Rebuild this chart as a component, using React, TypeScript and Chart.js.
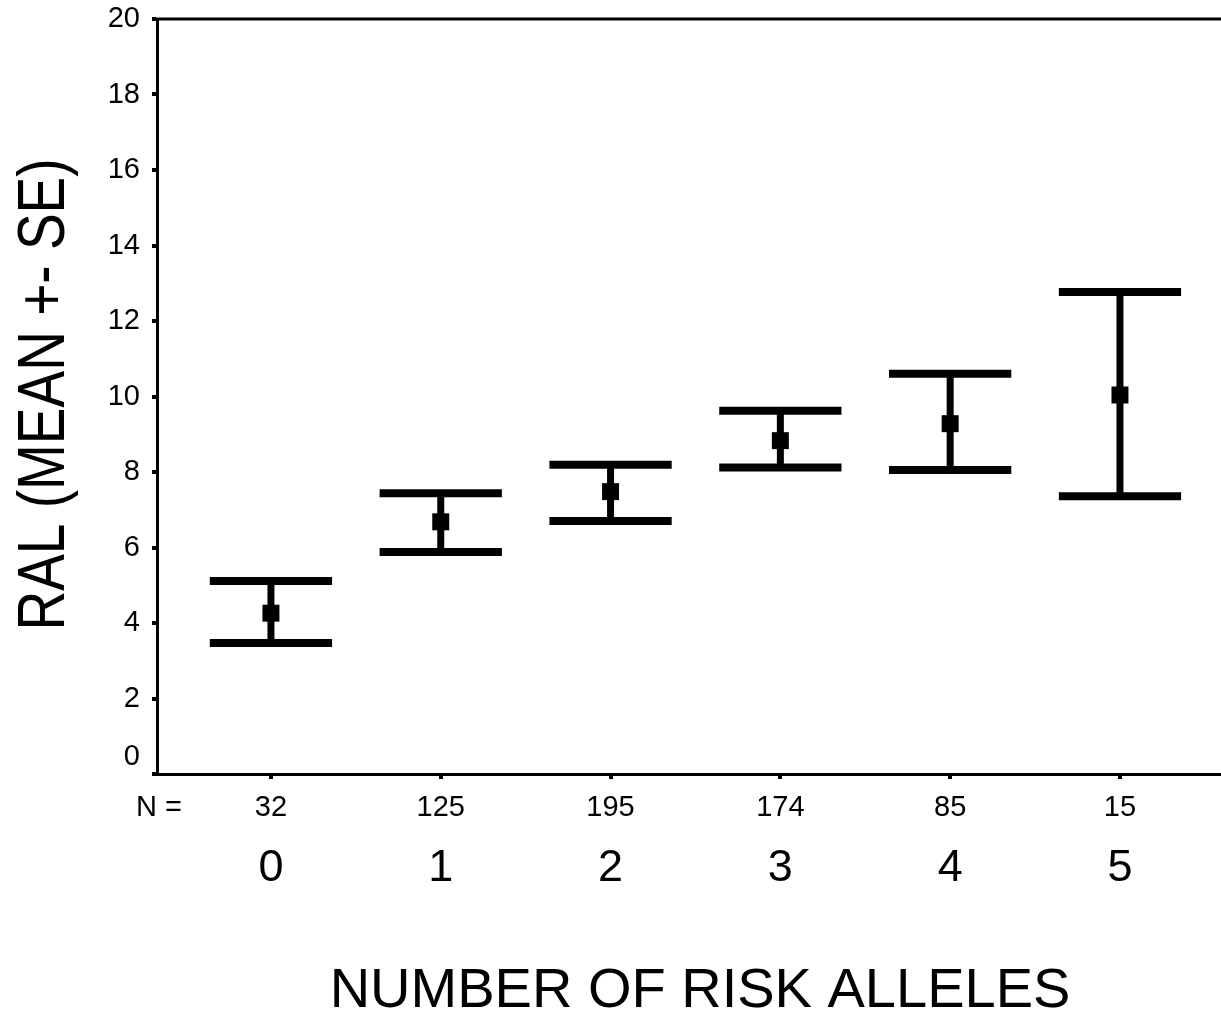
import React, { useEffect, useRef } from 'react';
import { Chart, registerables } from 'chart.js';

Chart.register(...registerables);

// ---- data ----
const categories = [0, 1, 2, 3, 4, 5];
const counts = [32, 125, 195, 174, 85, 15];
const means = [4.26, 6.68, 7.48, 8.83, 9.28, 10.04];
const upper = [5.11, 7.44, 8.19, 9.62, 10.6, 12.77];
const lower = [3.47, 5.88, 6.7, 8.12, 8.05, 7.36];
const yTicks = [0, 2, 4, 6, 8, 10, 12, 14, 16, 18, 20];
const nLabel = 'N =';
const nLabelPos = -0.66;
const yTitle = 'RAL (MEAN +- SE)';
const xTitle = 'NUMBER OF RISK ALLELES';

// ---- style constants ----
const X_MIN = -0.671;
const X_MAX = 5.595;
const CAP_HALF = 0.36; // in category units
const FONT = '"Liberation Sans", Arial, Helvetica, sans-serif';

const errorBarPlugin = {
  id: 'errorBars',
  beforeDatasetsDraw(chart: any) {
    const { ctx, scales } = chart;
    const x = scales.x;
    const y = scales.y;
    ctx.save();
    ctx.strokeStyle = '#000';
    ctx.lineCap = 'butt';
    categories.forEach((c, i) => {
      const px = x.getPixelForValue(c);
      const half = x.getPixelForValue(c + CAP_HALF) - px;
      const pu = y.getPixelForValue(upper[i]);
      const pl = y.getPixelForValue(lower[i]);
      ctx.lineWidth = 7;
      ctx.beginPath();
      ctx.moveTo(px, pu);
      ctx.lineTo(px, pl);
      ctx.stroke();
      ctx.lineWidth = 8;
      ctx.beginPath();
      ctx.moveTo(px - half, pu);
      ctx.lineTo(px + half, pu);
      ctx.moveTo(px - half, pl);
      ctx.lineTo(px + half, pl);
      ctx.stroke();
    });
    ctx.restore();
  },
};

const framePlugin = {
  id: 'frameAndTitles',
  afterDraw(chart: any) {
    const { ctx, chartArea } = chart;
    ctx.save();
    // top border of the plot box
    ctx.strokeStyle = '#000';
    ctx.lineWidth = 3;
    ctx.beginPath();
    ctx.moveTo(chartArea.left - 1.5, chartArea.top);
    ctx.lineTo(chart.width, chartArea.top);
    ctx.stroke();
    ctx.fillStyle = '#000';
    ctx.textAlign = 'center';
    ctx.textBaseline = 'middle';
    // x axis title
    ctx.font = `56px ${FONT}`;
    ctx.fillText(xTitle, 700, 992);
    // y axis title (slightly tall letters as in the original)
    ctx.translate(46, (chartArea.top + chartArea.bottom) / 2 - 2);
    ctx.rotate(-Math.PI / 2);
    ctx.scale(1, 1.2);
    ctx.font = `55px ${FONT}`;
    ctx.fillText(yTitle, 0, 0);
    ctx.restore();
  },
};

export default function App() {
  const canvasRef = useRef<HTMLCanvasElement | null>(null);

  useEffect(() => {
    document.body.style.margin = '0';
    const canvas = canvasRef.current;
    if (!canvas) return;
    Chart.defaults.font.family = FONT;
    const chart = new Chart(canvas, {
      type: 'scatter',
      data: {
        datasets: [
          {
            data: categories.map((c, i) => ({ x: c, y: means[i] })),
            pointStyle: 'rect',
            pointRadius: 12,
            pointHoverRadius: 12,
            backgroundColor: '#000',
            borderColor: '#000',
            borderWidth: 0,
            xAxisID: 'x',
            yAxisID: 'y',
          } as any,
        ],
      },
      options: {
        animation: false,
        responsive: true,
        maintainAspectRatio: false,
        layout: { autoPadding: false, padding: { top: 19, left: 0, right: 0, bottom: 0 } },
        plugins: {
          legend: { display: false },
          tooltip: { enabled: false },
        },
        scales: {
          x: {
            type: 'linear',
            position: 'bottom',
            weight: 1,
            min: X_MIN,
            max: X_MAX,
            afterBuildTicks: (s: any) => {
              s.ticks = [{ value: nLabelPos }, ...categories.map((v) => ({ value: v }))];
            },
            afterFit: (s: any) => {
              s.height = 60;
              s.paddingLeft = 0;
              s.paddingRight = 0;
            },
            ticks: {
              font: { size: 29 },
              color: '#000',
              padding: 12,
              autoSkip: false,
              maxRotation: 0,
              minRotation: 0,
              callback: (v: any) =>
                v === nLabelPos ? nLabel : String(counts[categories.indexOf(v)]),
            },
            grid: {
              drawOnChartArea: false,
              drawTicks: true,
              tickLength: 5,
              lineWidth: 4,
              color: (ctx: any) =>
                ctx.tick && ctx.tick.value === nLabelPos ? 'rgba(0,0,0,0)' : '#000',
            },
            border: { display: true, color: '#000', width: 3 },
          } as any,
          x2: {
            type: 'linear',
            position: 'bottom',
            weight: 2,
            min: X_MIN,
            max: X_MAX,
            afterBuildTicks: (s: any) => {
              s.ticks = categories.map((v) => ({ value: v }));
            },
            afterFit: (s: any) => {
              s.height = 184;
              s.paddingLeft = 0;
              s.paddingRight = 0;
            },
            ticks: {
              font: { size: 45 },
              color: '#000',
              padding: 0,
              autoSkip: false,
              maxRotation: 0,
              minRotation: 0,
              callback: (v: any) => String(v),
            },
            grid: { display: false },
            border: { display: false },
          } as any,
          y: {
            type: 'linear',
            position: 'left',
            min: 0,
            max: 20,
            afterBuildTicks: (s: any) => {
              s.ticks = yTicks.map((v) => ({ value: v }));
            },
            afterFit: (s: any) => {
              s.width = 157;
              s.paddingTop = 0;
              s.paddingBottom = 0;
            },
            ticks: {
              font: { size: 29 },
              color: '#000',
              padding: 12,
              callback: (v: any) => (v === 0 ? ['0', ''] : String(v)),
            },
            grid: {
              drawOnChartArea: false,
              drawTicks: true,
              tickLength: 5,
              lineWidth: 4,
              color: '#000',
            },
            border: { display: true, color: '#000', width: 3 },
          } as any,
        },
      },
      plugins: [errorBarPlugin, framePlugin],
    });
    return () => chart.destroy();
  }, []);

  return (
    <div style={{ width: 1221, height: 1018, position: 'relative', background: '#fff' }}>
      <canvas ref={canvasRef} />
    </div>
  );
}
